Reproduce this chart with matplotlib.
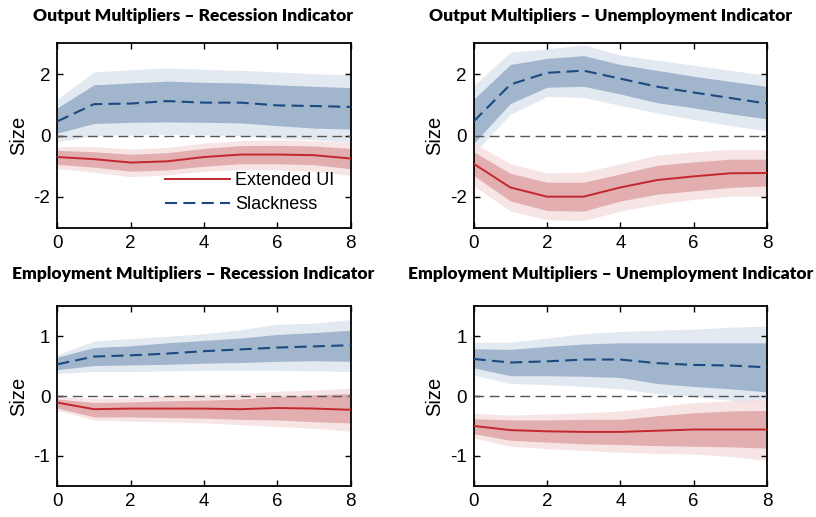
import matplotlib
matplotlib.use("Agg")
import matplotlib.pyplot as plt
import numpy as np

horizons = [0, 1, 2, 3, 4, 5, 6, 7, 8]

titles = ["Output Multipliers \u2013 Recession Indicator",
          "Output Multipliers \u2013 Unemployment Indicator",
          "Employment Multipliers \u2013 Recession Indicator",
          "Employment Multipliers \u2013 Unemployment Indicator"]

# Panel 1: Output, Recession
p1_slack = [0.46, 1.02, 1.04, 1.12, 1.07, 1.07, 0.98, 0.96, 0.93]
p1_slack_d_hi = [0.90, 1.65, 1.71, 1.77, 1.73, 1.71, 1.65, 1.60, 1.56]
p1_slack_d_lo = [0.08, 0.39, 0.43, 0.44, 0.43, 0.41, 0.32, 0.24, 0.21]
p1_slack_l_hi = [1.18, 2.07, 2.14, 2.20, 2.15, 2.12, 2.07, 2.01, 1.98]
p1_slack_l_lo = [-0.20, -0.01, 0.02, 0.04, 0.02, 0.00, -0.09, -0.14, -0.23]
p1_ui = [-0.70, -0.77, -0.88, -0.84, -0.70, -0.62, -0.62, -0.64, -0.75]
p1_ui_d_hi = [-0.48, -0.53, -0.61, -0.56, -0.42, -0.33, -0.32, -0.34, -0.42]
p1_ui_d_lo = [-0.94, -1.03, -1.16, -1.12, -1.00, -0.92, -0.92, -0.95, -1.08]
p1_ui_l_hi = [-0.36, -0.36, -0.44, -0.39, -0.25, -0.17, -0.14, -0.17, -0.23]
p1_ui_l_lo = [-1.08, -1.19, -1.34, -1.28, -1.16, -1.12, -1.12, -1.16, -1.30]

# Panel 2: Output, Unemployment
p2_slack = [0.46, 1.66, 2.04, 2.11, 1.85, 1.59, 1.40, 1.22, 1.04]
p2_slack_d_hi = [1.18, 2.31, 2.51, 2.60, 2.31, 2.12, 1.93, 1.76, 1.60]
p2_slack_d_lo = [-0.25, 1.04, 1.57, 1.60, 1.35, 1.07, 0.90, 0.71, 0.54]
p2_slack_l_hi = [1.62, 2.71, 2.82, 2.95, 2.62, 2.45, 2.29, 2.12, 1.96]
p2_slack_l_lo = [-0.59, 0.69, 1.27, 1.24, 0.98, 0.74, 0.52, 0.32, 0.15]
p2_ui = [-0.92, -1.69, -1.99, -1.99, -1.69, -1.45, -1.33, -1.23, -1.22]
p2_ui_d_hi = [-0.53, -1.23, -1.52, -1.52, -1.25, -0.97, -0.86, -0.77, -0.77]
p2_ui_d_lo = [-1.30, -2.13, -2.44, -2.46, -2.13, -1.91, -1.80, -1.69, -1.64]
p2_ui_l_hi = [-0.25, -0.92, -1.22, -1.19, -0.92, -0.64, -0.53, -0.45, -0.45]
p2_ui_l_lo = [-1.64, -2.46, -2.74, -2.77, -2.46, -2.24, -2.08, -1.97, -1.97]

# Panel 3: Employment, Recession
p3_slack = [0.53, 0.66, 0.68, 0.71, 0.75, 0.78, 0.81, 0.83, 0.85]
p3_slack_d_hi = [0.65, 0.81, 0.84, 0.89, 0.93, 0.97, 1.03, 1.06, 1.10]
p3_slack_d_lo = [0.44, 0.51, 0.52, 0.53, 0.55, 0.56, 0.58, 0.59, 0.58]
p3_slack_l_hi = [0.69, 0.92, 0.96, 1.00, 1.04, 1.11, 1.20, 1.22, 1.28]
p3_slack_l_lo = [0.38, 0.41, 0.41, 0.42, 0.43, 0.43, 0.43, 0.42, 0.41]
p3_ui = [-0.11, -0.22, -0.21, -0.21, -0.21, -0.22, -0.20, -0.21, -0.23]
p3_ui_d_hi = [-0.05, -0.11, -0.10, -0.08, -0.07, -0.05, -0.01, 0.02, 0.04]
p3_ui_d_lo = [-0.20, -0.35, -0.35, -0.36, -0.37, -0.39, -0.40, -0.43, -0.45]
p3_ui_l_hi = [-0.01, -0.04, -0.03, 0.01, 0.03, 0.04, 0.08, 0.10, 0.13]
p3_ui_l_lo = [-0.24, -0.40, -0.42, -0.43, -0.45, -0.48, -0.51, -0.54, -0.59]

# Panel 4: Employment, Unemployment
p4_slack = [0.62, 0.56, 0.58, 0.61, 0.61, 0.55, 0.52, 0.51, 0.48]
p4_slack_d_hi = [0.79, 0.78, 0.83, 0.87, 0.89, 0.89, 0.89, 0.89, 0.89]
p4_slack_d_lo = [0.47, 0.34, 0.34, 0.33, 0.31, 0.21, 0.16, 0.12, 0.07]
p4_slack_l_hi = [0.90, 0.90, 0.97, 1.04, 1.08, 1.10, 1.12, 1.15, 1.17]
p4_slack_l_lo = [0.35, 0.21, 0.19, 0.16, 0.12, 0.04, -0.01, -0.07, -0.18]
p4_ui = [-0.50, -0.57, -0.59, -0.60, -0.60, -0.58, -0.56, -0.56, -0.56]
p4_ui_d_hi = [-0.38, -0.40, -0.40, -0.39, -0.39, -0.33, -0.28, -0.25, -0.24]
p4_ui_d_lo = [-0.63, -0.74, -0.77, -0.80, -0.81, -0.83, -0.84, -0.85, -0.87]
p4_ui_l_hi = [-0.29, -0.32, -0.30, -0.28, -0.25, -0.18, -0.11, -0.08, -0.05]
p4_ui_l_lo = [-0.70, -0.84, -0.88, -0.91, -0.94, -0.96, -0.97, -1.01, -1.08]

panels = [
    (p1_slack, p1_slack_d_lo, p1_slack_d_hi, p1_slack_l_lo, p1_slack_l_hi,
     p1_ui, p1_ui_d_lo, p1_ui_d_hi, p1_ui_l_lo, p1_ui_l_hi),
    (p2_slack, p2_slack_d_lo, p2_slack_d_hi, p2_slack_l_lo, p2_slack_l_hi,
     p2_ui, p2_ui_d_lo, p2_ui_d_hi, p2_ui_l_lo, p2_ui_l_hi),
    (p3_slack, p3_slack_d_lo, p3_slack_d_hi, p3_slack_l_lo, p3_slack_l_hi,
     p3_ui, p3_ui_d_lo, p3_ui_d_hi, p3_ui_l_lo, p3_ui_l_hi),
    (p4_slack, p4_slack_d_lo, p4_slack_d_hi, p4_slack_l_lo, p4_slack_l_hi,
     p4_ui, p4_ui_d_lo, p4_ui_d_hi, p4_ui_l_lo, p4_ui_l_hi),
]

ylims = [(-3, 3), (-3, 3), (-1.5, 1.5), (-1.5, 1.5)]
yticks = [[-2, 0, 2], [-2, 0, 2], [-1, 0, 1], [-1, 0, 1]]

blue_light = "#e3e9f1"
blue_dark = "#a1b5cd"
red_light = "#f6e0e1"
red_dark = "#e1abad"
blue_line = "#1a4a80"
red_line = "#c4262e"

plt.rcParams["font.family"] = ["Liberation Sans", "DejaVu Sans"]
plt.rcParams["axes.unicode_minus"] = False

fig = plt.figure(figsize=(8.16, 5.17), dpi=100)

positions = [
    (0.0702, 0.5596, 0.3596, 0.3566),
    (0.5805, 0.5596, 0.3594, 0.3566),
    (0.0702, 0.0605, 0.3596, 0.3470),
    (0.5805, 0.0605, 0.3594, 0.3470),
]
title_x = [0.237, 0.748, 0.237, 0.748]
title_y = [0.970, 0.970, 0.470, 0.470]

for i, pos in enumerate(positions):
    ax = fig.add_axes(pos)
    (s, sdl, sdh, sll, slh, u, udl, udh, ull, ulh) = panels[i]
    ax.fill_between(horizons, sll, slh, color=blue_light, lw=0, zorder=1)
    ax.fill_between(horizons, ull, ulh, color=red_light, lw=0, zorder=1, alpha=0.85)
    ax.fill_between(horizons, sdl, sdh, color=blue_dark, lw=0, zorder=2)
    ax.fill_between(horizons, udl, udh, color=red_dark, lw=0, zorder=2, alpha=0.95)
    ax.axhline(0, color="#555555", lw=1.0, ls=(0, (7, 4)), zorder=3)
    l1, = ax.plot(horizons, u, color=red_line, lw=1.4, zorder=4, label="Extended UI")
    l2, = ax.plot(horizons, s, color=blue_line, lw=1.5, ls=(0, (5.8, 3)), zorder=4,
                  label="Slackness")
    ax.set_xlim(0, 8)
    ax.set_ylim(*ylims[i])
    ax.set_xticks([0, 2, 4, 6, 8])
    ax.set_yticks(yticks[i])
    ax.tick_params(direction="in", top=True, right=True, length=4, width=1,
                   labelsize=13.5, pad=5)
    for sp in ax.spines.values():
        sp.set_linewidth(1.3)
    ax.set_ylabel("Size", fontsize=14.5, labelpad=4)
    fig.text(title_x[i], title_y[i], titles[i], ha="center", va="center",
             fontsize=12.5, fontweight="heavy", family=["Lato", "DejaVu Sans"])
    if i == 0:
        ax.legend(handles=[l1, l2], loc="lower right", bbox_to_anchor=(0.97, 0.04),
                  frameon=False, fontsize=13, handlelength=3.6, handletextpad=0.3,
                  labelspacing=0.4, borderaxespad=0)

fig.savefig("out.png", dpi=100)
